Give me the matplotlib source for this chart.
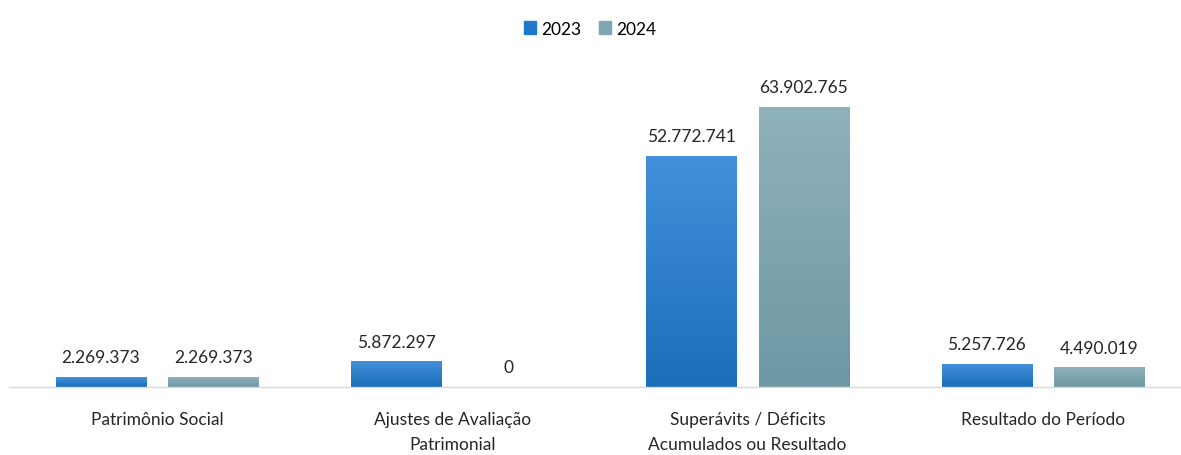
import numpy as np
import matplotlib
matplotlib.use("Agg")
import matplotlib.pyplot as plt
from matplotlib.colors import LinearSegmentedColormap

plt.rcParams["font.family"] = ["Lato", "DejaVu Sans"]

# ── dados ─────────────────────────────────────────────
categorias = [
    "Patrimônio Social",
    "Ajustes de Avaliação\nPatrimonial",
    "Superávits / Déficits\nAcumulados ou Resultado",
    "Resultado do Período",
]
anos = ["2023", "2024"]
valores_2023 = [2269373, 5872297, 52772741, 5257726]
valores_2024 = [2269373, 0, 63902765, 4490019]

# degradê de cada série (topo -> base)
gradientes = {
    "2023": ("#4490DA", "#1A6EBA"),
    "2024": ("#8FB2BC", "#6D98A3"),
}
cor_legenda = {"2023": "#1F78C8", "2024": "#7FA6B0"}


def fmt_br(v):
    return f"{v:,.0f}".replace(",", ".")


fig = plt.figure(figsize=(11.81, 4.56), dpi=100)
ax = fig.add_axes([0.008, 0.149, 1.0, 0.64])

x = np.arange(len(categorias))
largura = 0.305
desloc = 0.19
ymax = max(valores_2024) / 0.96
ax.set_xlim(-0.5, len(categorias) - 0.5)
ax.set_ylim(0, ymax)

for serie, vals, dx in [("2023", valores_2023, -desloc), ("2024", valores_2024, desloc)]:
    barras = ax.bar(x + dx, vals, width=largura, color=cor_legenda[serie], label=serie)
    cmap = LinearSegmentedColormap.from_list(serie, [gradientes[serie][1], gradientes[serie][0]])
    grad = np.linspace(0, 1, 256).reshape(-1, 1)
    for b, v in zip(barras, vals):
        if v <= 0:
            continue
        bx, bw = b.get_x(), b.get_width()
        im = ax.imshow(grad, extent=[bx, bx + bw, 0, v], origin="lower",
                       aspect="auto", cmap=cmap, zorder=2)
        im.set_clip_path(b)
        ax.text(bx + bw / 2, v + ymax * 0.04, fmt_br(v), ha="center", va="bottom",
                fontsize=12.5, color="#262626")
    for b, v in zip(barras, vals):
        if v == 0:
            ax.text(b.get_x() + b.get_width() / 2, ymax * 0.04, "0", ha="center",
                    va="bottom", fontsize=12.5, color="#262626")

ax.set_xlim(-0.5, len(categorias) - 0.5)
ax.set_ylim(0, ymax)
ax.set_xticks(x)
ax.set_xticklabels(categorias, fontsize=12.5, color="#262626", linespacing=1.75)
ax.tick_params(axis="x", length=0, pad=17)
ax.set_yticks([])
for s in ["top", "right", "left"]:
    ax.spines[s].set_visible(False)
ax.spines["bottom"].set_color("#D9D9D9")
ax.spines["bottom"].set_linewidth(1)

# legenda
handles = [plt.Rectangle((0, 0), 1, 1, color=cor_legenda[a]) for a in anos]
fig.legend(handles, anos, loc="center", bbox_to_anchor=(0.5, 0.935), ncol=2,
           frameon=False, fontsize=12.5, handlelength=0.7, handleheight=0.7,
           handletextpad=0.3, columnspacing=1.0)

fig.savefig("out.png", dpi=100, facecolor="white")
